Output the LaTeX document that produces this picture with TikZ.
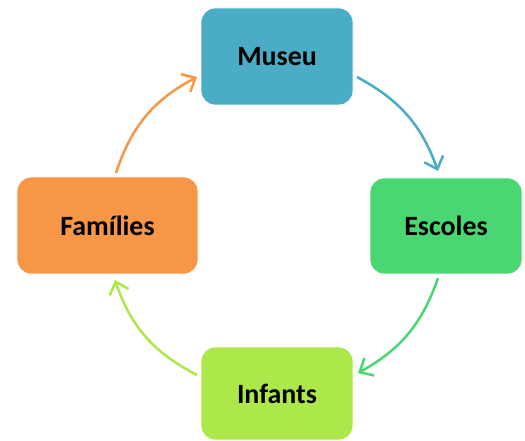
\documentclass[tikz,border=0pt]{standalone}
\usepackage{fontspec}
\setmainfont{Carlito}
\usetikzlibrary{arrows.meta}
\definecolor{cMuseu}{HTML}{4BACC6}
\definecolor{cEscoles}{HTML}{4AD672}
\definecolor{cInfants}{HTML}{ADE84B}
\definecolor{cFam}{HTML}{F79646}
\begin{document}
\begin{tikzpicture}[x=1bp,y=1bp,
  box/.style={rectangle, rounded corners=14bp, draw=white, line width=0.8bp,
    inner sep=0pt, font=\fontsize{28}{30}\selectfont\bfseries, text=black},
  conn/.style={line width=2.5bp, -{Straight Barb[length=11bp,width=20bp,line width=2.5bp]}}]
\useasboundingbox (0,0) rectangle (525,441);
\node[box, fill=cMuseu, minimum width=152bp, minimum height=97bp] (museu) at (277,384.5) {Museu};
\node[box, fill=cEscoles, minimum width=152bp, minimum height=96bp] (escoles) at (446,215) {Escoles};
\node[box, fill=cInfants, minimum width=152bp, minimum height=93bp] (infants) at (277,47.5) {Infants};
\node[box, fill=cFam, minimum width=181bp, minimum height=97bp] (fam) at (107.5,215.5) {Famílies};
\coordinate (m1) at (357,364);
\coordinate (e1) at (438,270);
\coordinate (e2) at (438,163);
\coordinate (i1) at (358,68);
\coordinate (i2) at (197,66);
\coordinate (f1) at (115,161);
\coordinate (f2) at (116,268);
\coordinate (m2) at (197,364);
\draw[conn, draw=cMuseu] (m1) to[bend left=21] (e1);
\draw[conn, draw=cEscoles] (e2) to[bend left=21] (i1);
\draw[conn, draw=cInfants] (i2) to[bend left=22] (f1);
\draw[conn, draw=cFam] (f2) to[bend left=22] (m2);
\end{tikzpicture}
\end{document}
